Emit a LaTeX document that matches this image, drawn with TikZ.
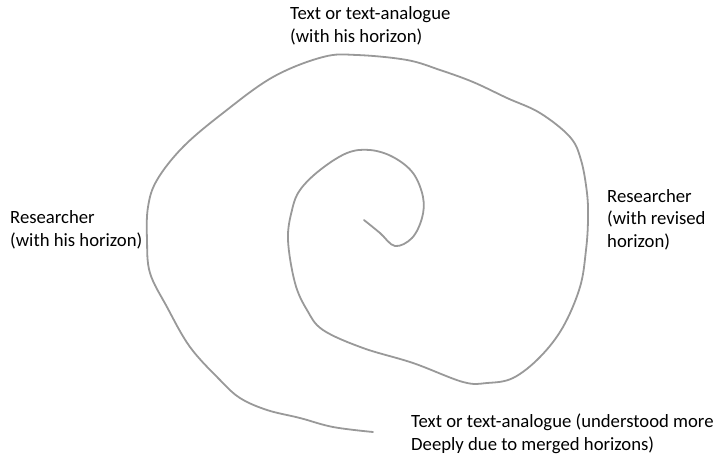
\documentclass[tikz,border=0pt]{standalone}
\usepackage{fontspec}
\setmainfont{Carlito}

\begin{document}
\begin{tikzpicture}[
    x=1pt, y=-1pt,
    notetext/.style={anchor=base west, align=left, inner sep=0pt, font=\fontsize{18.7}{22.5}\selectfont},
    spiral/.style={draw=black!40, line width=1.8pt, line cap=round, line join=round}
]
\useasboundingbox (0,0) rectangle (720,456);

% labels are placed by the baseline of their last line
\node[notetext] (text1) at (290,42) {Text or text-analogue\\(with his horizon)};
\node[notetext] (res1) at (10,246) {Researcher\\(with his horizon)};
\node[notetext] (res2) at (607,247) {Researcher\\(with revised\\horizon)};
\node[notetext] (text2) at (411,450) {Text or text-analogue (understood more\\Deeply due to merged horizons)};

% the hermeneutic spiral, from the centre outwards
\draw[spiral] plot[smooth, tension=0.6] coordinates {
    (364,220) (380,233) (395,246) (412,238) (422,218) (423,197)
    (413,173) (393,157) (370,150) (347,153) (320,170) (300,190)
    (292,210) (288,240) (295,283) (307,310) (323,330) (363,348)
    (413,363) (463,382) (487,383) (513,378) (540,357) (563,327)
    (580,287) (586,250) (588,220) (587,193) (581,160) (570,137)
    (540,113) (507,98) (473,82) (440,70) (407,60) (357,55)
    (323,57) (273,77) (223,113) (183,147) (157,180) (148,207)
    (147,240) (150,273) (167,307) (190,347) (220,380) (240,398)
    (267,410) (300,418) (333,427) (373,432)};
\end{tikzpicture}
\end{document}
